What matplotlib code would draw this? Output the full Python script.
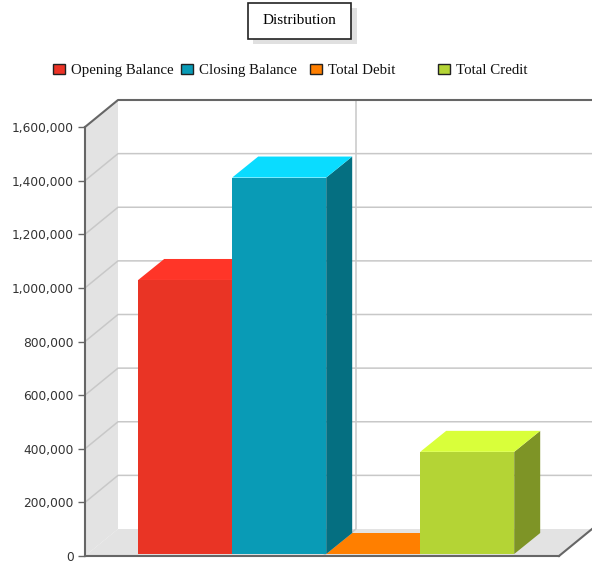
import matplotlib
matplotlib.use("Agg")
from matplotlib import pyplot as plt
from matplotlib.patches import Polygon, Rectangle

W, H = 592, 563

labels = ['Opening Balance', 'Closing Balance', 'Total Debit', 'Total Credit']
values = [1022000, 1404000, 0, 381000]
front_colors = ['#E93425', '#099BB6', '#FF7F00', '#B4D435']
top_colors = ['#FF3528', '#0ADCFF', '#FF7F00', '#D9FF3A']
side_colors = ['#A52419', '#056F81', '#B35900', '#7E9426']
legend_colors = ['#EC3326', '#099BB6', '#FF7F00', '#B4D435']
legend_x = [53, 181, 310, 438]
y_ticks = [0, 200000, 400000, 600000, 800000, 1000000, 1200000, 1400000, 1600000]

fig = plt.figure(figsize=(W / 100, H / 100), dpi=100, facecolor='white')

# overlay in pixel coords for box, legend
bg = fig.add_axes([0, 0, 1, 1])
bg.set_xlim(0, W)
bg.set_ylim(H, 0)
bg.axis('off')

# title box
bg.add_patch(Rectangle((253, 8), 104, 36, fc='#E0E0E0', ec='none'))
bg.add_patch(Rectangle((247.5, 2.5), 103, 36, fc='white', ec='#222222', lw=1.2))
bg.text(299, 20, 'Distribution', ha='center', va='center', family='Liberation Serif', fontsize=11, color='black')

# legend
for lx, lab, col in zip(legend_x, labels, legend_colors):
    bg.add_patch(Rectangle((lx, 64), 12, 10, fc=col, ec='#222222', lw=1))
    bg.text(lx + 18, 70.5, lab, ha='left', va='center', family='Liberation Serif', fontsize=10.7, color='#111111')

# plot area, 1 x unit = one bar width
ax_left, ax_right, ax_top, ax_bottom = 85, 559, 127, 556
bar_px = 94
x0 = 138.2
ax = fig.add_axes([ax_left / W, 1 - ax_bottom / H, (ax_right - ax_left) / W, (ax_bottom - ax_top) / H])
ax.patch.set_alpha(0)
ax.set_xlim((ax_left - x0) / bar_px, (ax_right - x0) / bar_px)
ax.set_ylim(0, 1600000)
for s in ax.spines.values():
    s.set_visible(False)
ax.spines['left'].set_visible(True)
ax.spines['bottom'].set_visible(True)
ax.spines['left'].set_color('#666666')
ax.spines['bottom'].set_color('#666666')
ax.spines['left'].set_linewidth(1.5)
ax.spines['bottom'].set_linewidth(1.5)
ax.set_xticks([])
ax.set_yticks(y_ticks)
ax.set_yticklabels([f'{v:,}' for v in y_ticks], family='DejaVu Sans', fontsize=8.8, color='#333333')
ax.tick_params(axis='y', length=5, width=1, color='#666666', pad=3)

# px to data helpers
ux = 1 / bar_px
uy = 1600000 / (ax_bottom - ax_top)
xl, xr = ax.get_xlim()

# walls
wall_dx, wall_dy = 33 * ux, 27 * uy
ax.add_patch(Polygon([(xl, 0), (xl + wall_dx, wall_dy), (xl + wall_dx, 1600000 + wall_dy), (xl, 1600000)],
                     fc='#E3E3E3', ec='none', clip_on=False, zorder=1))
ax.add_patch(Polygon([(xl, 0), (xl + wall_dx, wall_dy), (xr + wall_dx, wall_dy), (xr, 0)],
                     fc='#E3E3E3', ec='none', clip_on=False, zorder=1))

# grid lines
for v in y_ticks[1:-1]:
    ax.plot([xl, xl + wall_dx, xr + wall_dx], [v, v + wall_dy, v + wall_dy], color='#C8C8C8', lw=1.1, clip_on=False, zorder=2)
ax.plot([xl, xl + wall_dx, xr + wall_dx], [1600000, 1600000 + wall_dy, 1600000 + wall_dy], color='#666666', lw=1.5, clip_on=False, zorder=3)
ax.plot([xr, xr + wall_dx], [0, wall_dy], color='#666666', lw=1.5, clip_on=False, zorder=3)
# category divider
xm = (356 - x0) / bar_px
ax.plot([xm - wall_dx, xm, xm], [0, wall_dy, 1600000 + wall_dy], color='#C8C8C8', lw=1.1, clip_on=False, zorder=2)

# bars
dx, dy = 26 * ux, 21 * uy
base = 2 * uy
for i in [3, 2, 1, 0]:
    top = base + values[i]
    ax.add_patch(Polygon([(i + 1, base), (i + 1 + dx, base + dy), (i + 1 + dx, top + dy), (i + 1, top)],
                         fc=side_colors[i], ec='none', zorder=4 + (3 - i) * 0.1))
    ax.add_patch(Polygon([(i, top), (i + dx, top + dy), (i + 1 + dx, top + dy), (i + 1, top)],
                         fc=top_colors[i], ec='none', zorder=4 + (3 - i) * 0.1))
for i in range(4):
    ax.bar(i + 0.5, values[i], width=1, bottom=base, color=front_colors[i], zorder=5)

fig.savefig('out.png', dpi=100)
